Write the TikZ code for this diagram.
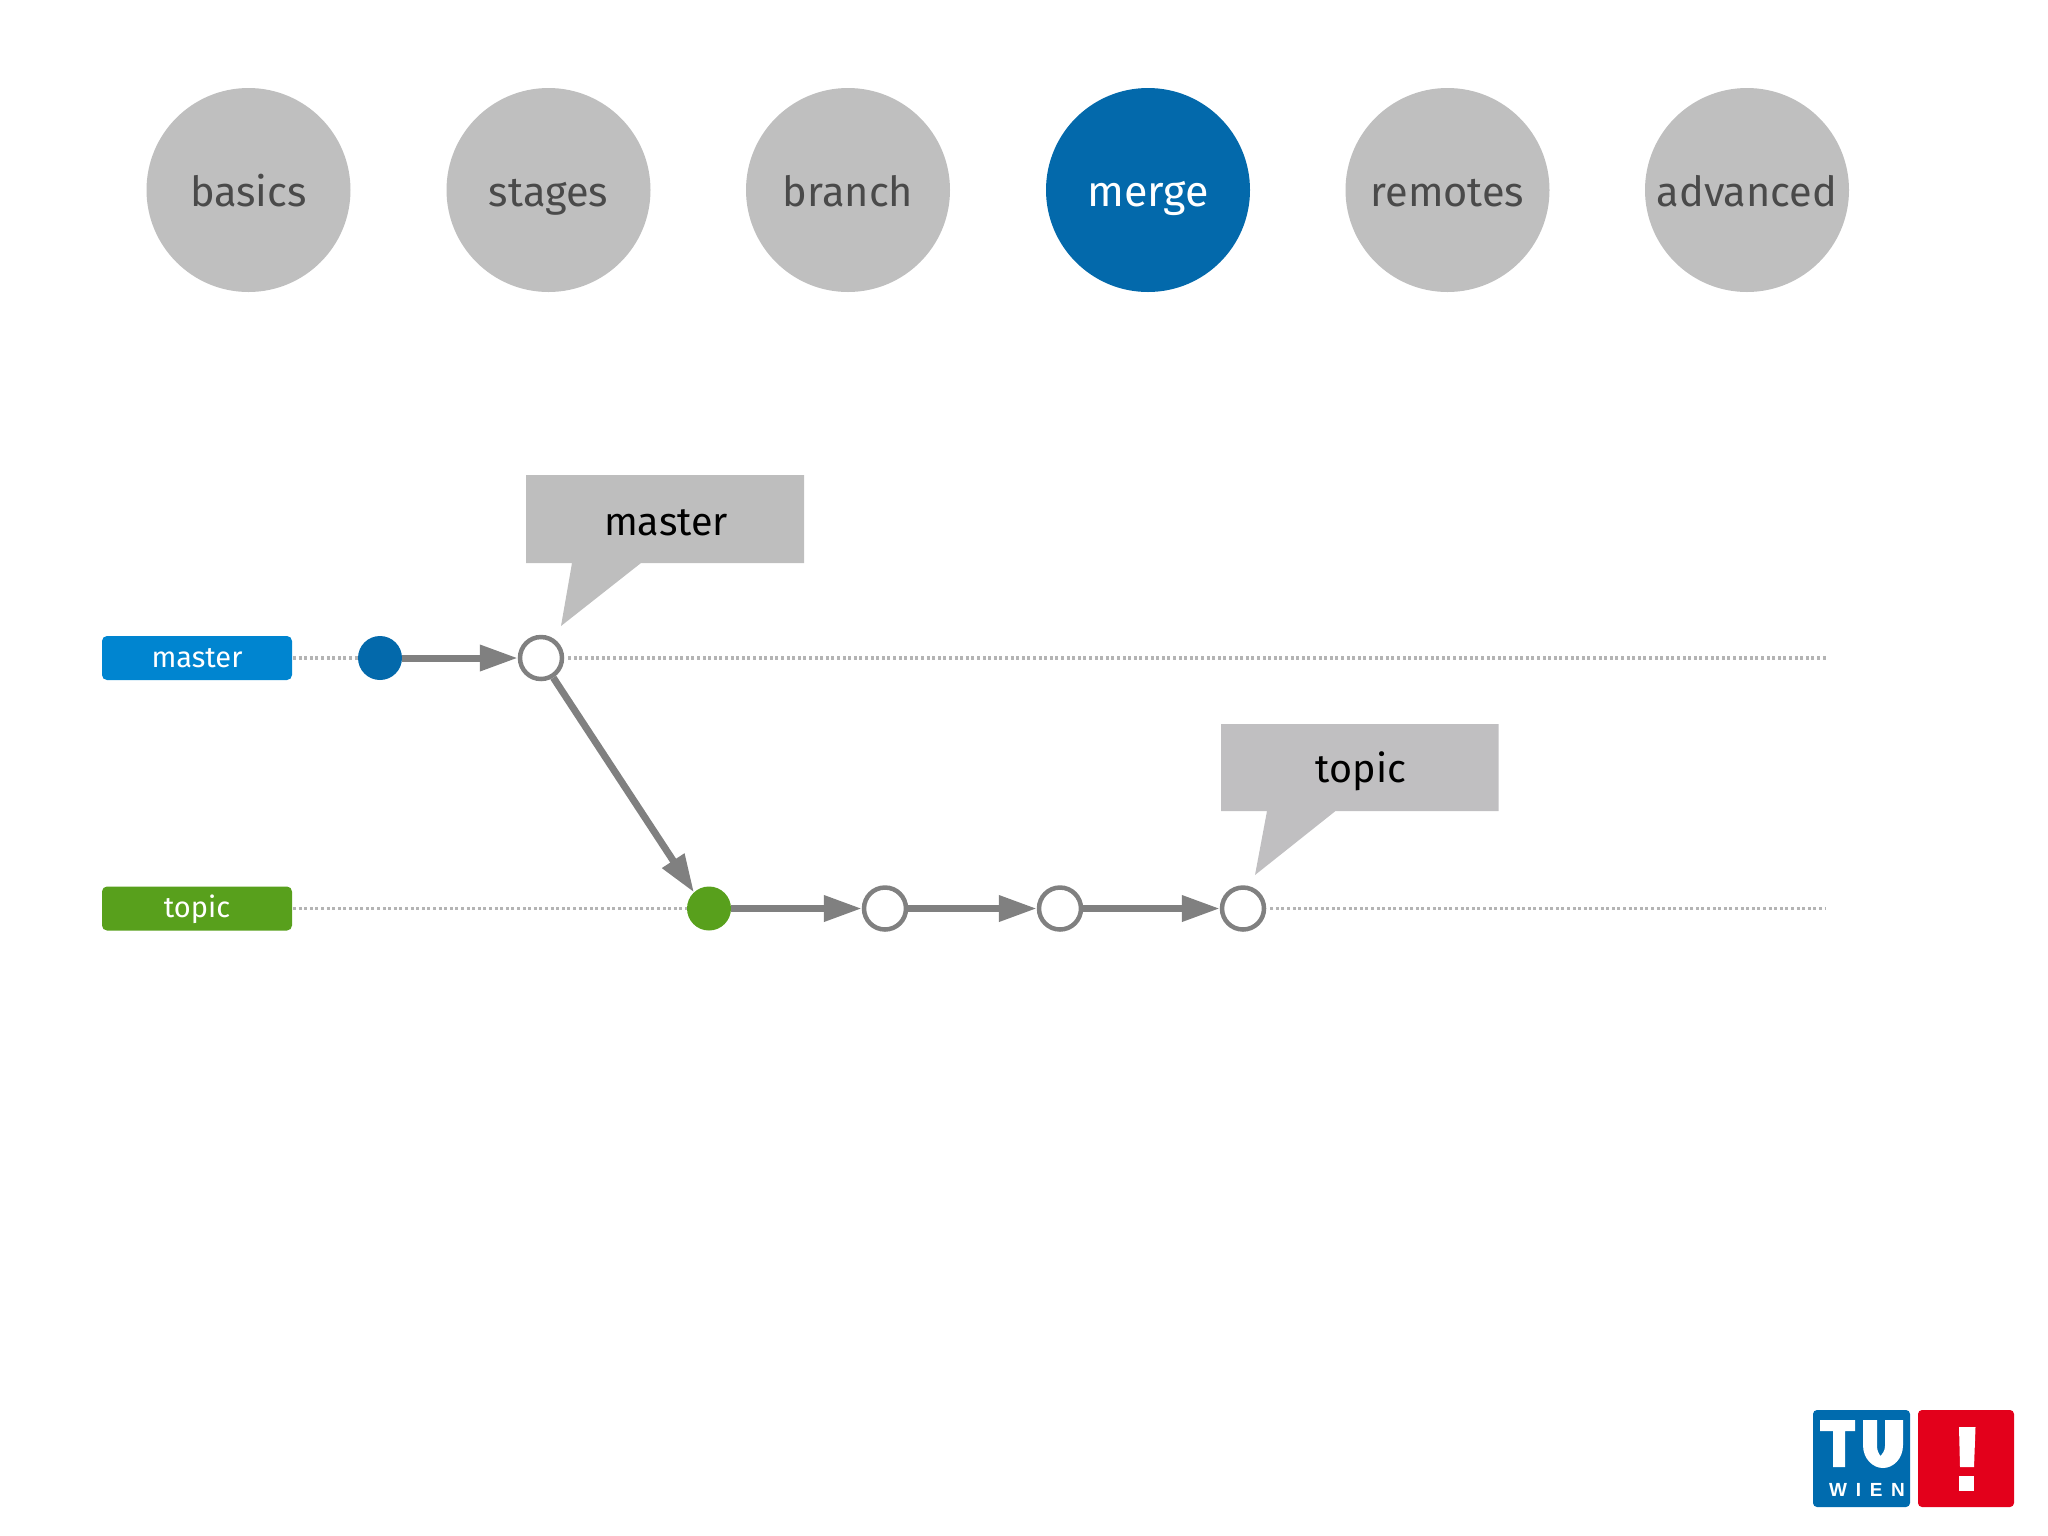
\documentclass[tikz,border=0pt]{standalone}
\usepackage{fontspec}
\setmainfont{Fira Sans}
\newfontfamily\wienfont[LetterSpace=46]{Liberation Sans}
\usetikzlibrary{arrows.meta}
\definecolor{menugray}{HTML}{BFBFBF}
\definecolor{menutext}{HTML}{4A4A4A}
\definecolor{merge}{HTML}{0369AB}
\definecolor{masterblue}{HTML}{0085D0}
\definecolor{topicgreen}{HTML}{58A01C}
\definecolor{linegray}{HTML}{808080}
\definecolor{dotgray}{HTML}{B4B4B4}
\definecolor{calloutA}{HTML}{BEBEBE}
\definecolor{calloutB}{HTML}{C0BFC1}
\definecolor{tuwblue}{HTML}{006BAE}
\definecolor{tuwred}{HTML}{E3001B}
\tikzset{
  menu/.style={circle,fill=menugray,minimum size=204pt,inner sep=0pt,outer sep=0pt,
    text=menutext,font=\fontsize{41.5}{43}\selectfont,text height=40pt,text depth=8pt},
  branchlabel/.style={rounded corners=5pt,minimum width=190pt,minimum height=44pt,inner sep=0pt,outer sep=0pt,
    text=white,font=\fontsize{29}{30}\selectfont,text height=25pt,text depth=7pt},
  solidcommit/.style={circle,minimum size=44pt,inner sep=0pt,outer sep=0pt},
  opencommit/.style={circle,draw=linegray,line width=4.5pt,fill=white,minimum size=42pt,inner sep=0pt,outer sep=2.25pt},
  flow/.style={draw=linegray,line width=7pt,-{Triangle[length=38pt,width=25pt]}},
  guide/.style={draw=dotgray,line width=3.5pt,dash pattern=on 3pt off 2.6pt},
  calloutbox/.style={font=\fontsize{39.5}{40}\selectfont,text=black},
}
\begin{document}
\begin{tikzpicture}[x=1pt,y=-1pt]
\useasboundingbox (0,0) rectangle (2048,1535);
% menu
\node[menu] (basics) at (248.5,190) {basics};
\node[menu] (stages) at (548.5,190) {stages};
\node[menu] (branch) at (848,190) {branch};
\node[menu,fill=merge,text=white,font=\fontsize{43}{43}\selectfont] (merge) at (1148,190) {merge};
\node[menu] (remotes) at (1447.5,190) {remotes};
\node[menu] (advanced) at (1747,190) {advanced};
% branch labels
\node[branchlabel,fill=masterblue] (mlabel) at (197,658) {master};
\node[branchlabel,fill=topicgreen] (tlabel) at (197,908.5) {topic};
% commits
\node[solidcommit,fill=merge] (c1) at (380,658) {};
\node[opencommit] (c2) at (541,658) {};
\node[solidcommit,fill=topicgreen] (c3) at (709,908.5) {};
\node[opencommit] (c4) at (885,908.5) {};
\node[opencommit] (c5) at (1060,908.5) {};
\node[opencommit] (c6) at (1243,908.5) {};
\coordinate (mend) at (1826,658);
\coordinate (tend) at (1826,908.5);
% guides
\draw[guide,shorten <=1pt] (mlabel.east) -- (c1.west);
\draw[guide,shorten <=4pt] (c2.east) -- (mend);
\draw[guide,shorten <=1pt] (tlabel.east) -- (c3.west);
\draw[guide,shorten <=4pt] (c6.east) -- (tend);
% flow
\draw[flow] (c1) -- (c2);
\draw[flow] (c2.-58) -- (c3.133);
\draw[flow] (c3) -- (c4);
\draw[flow] (c4) -- (c5);
\draw[flow] (c5) -- (c6);
% callouts
\fill[calloutA] (526,475) -- (804,475) -- (804,563) -- (641,563) -- (561,626) -- (572,563) -- (526,563) -- cycle;
\node[calloutbox] (cm) at (666,522.5) {master};
\fill[calloutB] (1221,724) -- (1498.5,724) -- (1498.5,811) -- (1335.5,811) -- (1255,875) -- (1267,811) -- (1221,811) -- cycle;
\node[calloutbox] (ct) at (1361,771.5) {topic};
% logo
\fill[tuwblue,rounded corners=4pt] (1813,1410) rectangle (1910,1507);
\fill[tuwred,rounded corners=4pt] (1918,1410) rectangle (2014,1507);
\fill[white] (1820,1420) -- (1855,1420) -- (1855,1431) -- (1845,1431) -- (1845,1467) -- (1833,1467) -- (1833,1431) -- (1820,1431) -- cycle;
\fill[white] (1863,1420) -- (1877,1420) -- (1877,1446) .. controls (1877,1451) and (1879,1454) .. (1880.5,1456)
  .. controls (1882,1454) and (1885,1451) .. (1885,1446) -- (1885,1420) -- (1903,1420) -- (1903,1445)
  .. controls (1903,1459) and (1893,1468) .. (1883,1468)
  .. controls (1873,1468) and (1863,1459) .. (1863,1445) -- cycle;
\node[text=white,font=\wienfont\bfseries\fontsize{19}{19}\selectfont,inner sep=0pt] (wien) at (1867,1490) {WIEN};
\fill[white] (1959,1427) -- (1975.5,1427) -- (1974,1467) -- (1960,1467) -- cycle;
\fill[white] (1959,1476) rectangle (1974,1491);
\end{tikzpicture}
\end{document}
